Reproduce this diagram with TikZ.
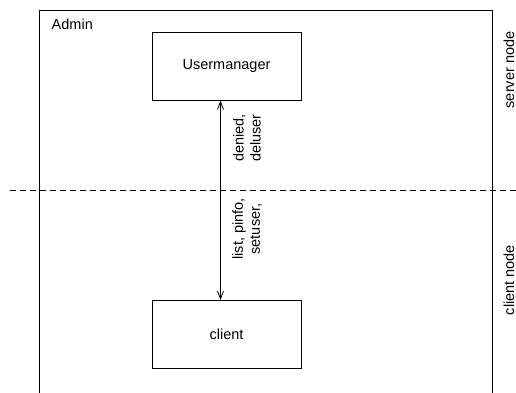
\documentclass[tikz,border=0pt]{standalone}
\usepackage{fontspec}
\setmainfont{Liberation Sans}
\usetikzlibrary{arrows.meta}
\begin{document}
\begin{tikzpicture}[x=1pt,y=-1pt,line width=0.8pt,
    every node/.style={font=\fontsize{14.5}{17}\selectfont},
    box/.style={draw,minimum width=149pt,minimum height=68pt},
    lbl/.style={rotate=90,align=center}]
  \useasboundingbox (0,0) rectangle (516,392);
  % admin area, runs off the bottom
  \draw (39,10) rectangle (492,400);
  \node[anchor=west] (admin) at (48,24) {Admin};
  \node[box] (um) at (226.5,66) {Usermanager};
  \node[box] (cl) at (226.5,334.5) {client};
  \draw[{Straight Barb[length=8pt,width=6pt]}-{Straight Barb[length=8pt,width=6pt]}]
    ([xshift=-6pt]um.south) -- ([xshift=-6pt]cl.north);
  \node[lbl] (srvmsg) at (247,138) {denied,\\deluser};
  \node[lbl] (climsg) at (247,229) {list, pinfo,\\setuser,};
  % split between the two nodes
  \coordinate (sl) at (10,190);
  \coordinate (sr) at (516,190);
  \draw[dash pattern=on 6pt off 4pt] (sl) -- (sr);
  \node[rotate=90] (srv) at (509,70) {server node};
  \node[rotate=90] (cln) at (509,280) {client node};
\end{tikzpicture}
\end{document}
